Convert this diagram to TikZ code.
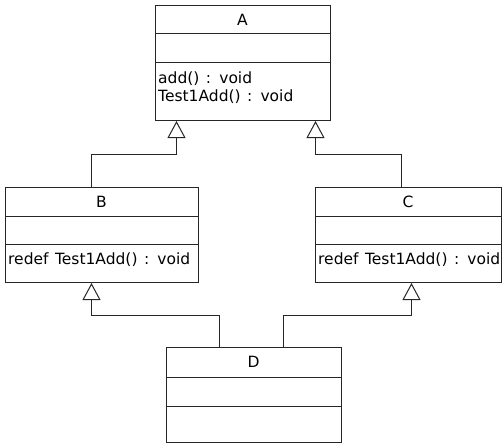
\documentclass[tikz,border=0pt]{standalone}
\usepackage{fontspec}
\setmainfont{DejaVu Sans}
\usetikzlibrary{arrows.meta}
\newcommand{\umlwidespace}{\spaceskip=6.5pt plus 1pt\relax}
\begin{document}
\begin{tikzpicture}[x=1pt,y=-1pt,
  box/.style={draw=black!85, line width=1pt, fill=white, anchor=north west, inner sep=0pt},
  divider/.style={draw=black!85, line width=1pt},
  title/.style={font=\fontsize{15.5}{18}\selectfont, inner sep=0pt, anchor=base},
  member/.style={font=\fontsize{15.5}{18}\selectfont, execute at begin node=\umlwidespace, inner sep=0pt, anchor=base west},
  inh/.style={draw=black!85, line width=1pt, -{Triangle[open, length=17pt, width=18pt, line width=1pt]}}]
\useasboundingbox (0,0) rectangle (504,445);
% boxes
\node[box, minimum width=175pt, minimum height=115pt] (A) at (155,5) {};
\node[box, minimum width=193pt, minimum height=95pt] (B) at (5,187) {};
\node[box, minimum width=186pt, minimum height=95pt] (C) at (315,187) {};
\node[box, minimum width=175pt, minimum height=95pt] (D) at (166,347) {};
% compartments
\draw[divider] ([yshift=-28pt]A.north west) -- ([yshift=-28pt]A.north east);
\draw[divider] ([yshift=-57pt]A.north west) -- ([yshift=-57pt]A.north east);
\draw[divider] ([yshift=-29pt]B.north west) -- ([yshift=-29pt]B.north east);
\draw[divider] ([yshift=-57pt]B.north west) -- ([yshift=-57pt]B.north east);
\draw[divider] ([yshift=-29pt]C.north west) -- ([yshift=-29pt]C.north east);
\draw[divider] ([yshift=-57pt]C.north west) -- ([yshift=-57pt]C.north east);
\draw[divider] ([yshift=-30pt]D.north west) -- ([yshift=-30pt]D.north east);
\draw[divider] ([yshift=-59pt]D.north west) -- ([yshift=-59pt]D.north east);
% texts
\node[title] (At) at (242.5,25) {A};
\node[title] (Bt) at (101.5,207) {B};
\node[title] (Ct) at (408,207) {C};
\node[title] (Dt) at (253.5,367) {D};
\node[member] (Am1) at (158,83) {add() : void};
\node[member] (Am2) at (158,101) {Test1Add() : void};
\node[member] (Bm) at (8,264) {redef Test1Add() : void};
\node[member] (Cm) at (318,264) {redef Test1Add() : void};
% generalizations
\draw[inh] ([xshift=-10.5pt]B.north) -- ++(0,-33) -| ([xshift=-66.5pt]A.south);
\draw[inh] ([xshift=-7pt]C.north) -- ++(0,-33) -| ([xshift=72.5pt]A.south);
\draw[inh] ([xshift=-34.5pt]D.north) -- ++(0,-32) -| ([xshift=-10.5pt]B.south);
\draw[inh] ([xshift=29.5pt]D.north) -- ++(0,-32) -| ([xshift=3pt]C.south);
\end{tikzpicture}
\end{document}
